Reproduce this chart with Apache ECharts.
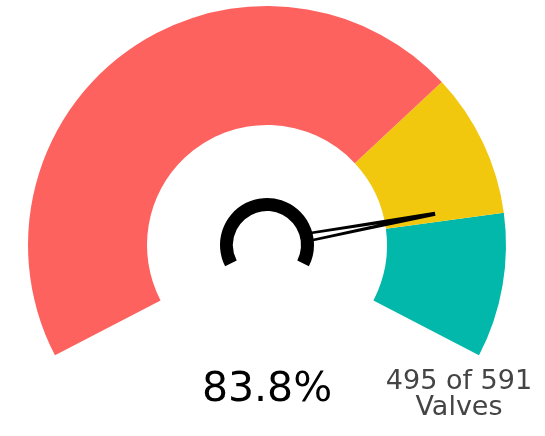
<!DOCTYPE html>
<html>
<head>
    <meta charset="utf-8">
    <title>Valves gauge</title>
    <script src="https://cdn.jsdelivr.net/npm/echarts@6/dist/echarts.min.js"></script>
    <style>
        html, body { margin: 0; padding: 0; background: #fff; }
        #main { width: 545px; height: 436px; }
    </style>
</head>
<body>
<div id="main"></div>
<script>
    // data
    var valvesDone = 495;
    var valvesTotal = 591;
    var unitLabel = 'Valves';
    // colour bands: share of the dial where each band stops
    var bandStops = [0.70, 0.85, 1];
    var bandColors = ['#FD625E', '#F2C80F', '#01B8AA'];

    var pct = valvesDone / valvesTotal * 100;
    var bands = [];
    for (var i = 0; i < bandStops.length; i++) {
        bands.push([bandStops[i], bandColors[i]]);
    }

    var chart = echarts.init(document.getElementById('main'));
    var cx = 267, cy = 245;

    var option = {
        backgroundColor: '#fff',
        animation: false,
        series: [
            {
                type: 'gauge',
                center: [cx, cy],
                radius: 239,
                startAngle: 207.5,
                endAngle: -27.5,
                min: 0,
                max: valvesTotal,
                axisLine: {
                    lineStyle: { width: 119, color: bands }
                },
                splitLine: { show: false },
                axisTick: { show: false },
                axisLabel: { show: false },
                pointer: {
                    // two thin strokes that meet half way and run on as one to the tip
                    icon: 'path://M0,125 L2.5,125 L7.5,0 L3.5,0 Z M7.5,125 L10,125 L7.5,0 L3.5,0 Z',
                    length: 126,
                    width: 10,
                    offsetCenter: [0, -45],
                    itemStyle: { color: '#000' }
                },
                anchor: { show: false },
                title: {
                    offsetCenter: [192, 150],
                    color: '#444',
                    fontSize: 27,
                    lineHeight: 26,
                    fontFamily: 'DejaVu Sans'
                },
                detail: {
                    offsetCenter: [0, 145],
                    color: '#000',
                    fontSize: 41,
                    fontWeight: 'normal',
                    fontFamily: 'DejaVu Sans',
                    formatter: function () {
                        return pct.toFixed(1) + '%';
                    }
                },
                data: [{ value: valvesDone, name: valvesDone + ' of ' + valvesTotal + '\n' + unitLabel }]
            },
            {
                // small black arc round the needle hub
                type: 'gauge',
                center: [cx, cy],
                radius: 47,
                startAngle: 207,
                endAngle: -27,
                axisLine: {
                    lineStyle: { width: 13, color: [[1, '#000']] }
                },
                splitLine: { show: false },
                axisTick: { show: false },
                axisLabel: { show: false },
                pointer: { show: false },
                anchor: { show: false },
                title: { show: false },
                detail: { show: false },
                data: [{ value: 0 }]
            }
        ]
    };
    chart.setOption(option);
</script>
</body>
</html>
